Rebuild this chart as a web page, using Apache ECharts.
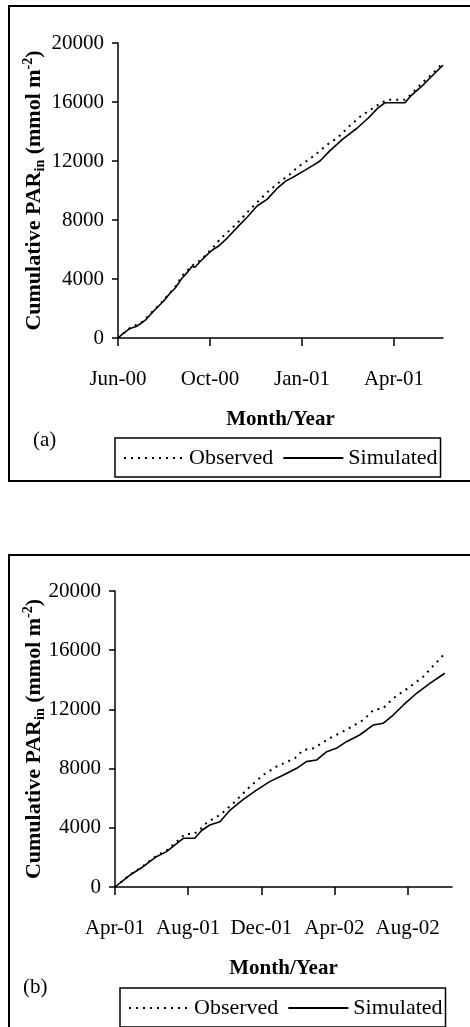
<!DOCTYPE html>
<html><head><meta charset="utf-8">
<script src="https://cdn.jsdelivr.net/npm/echarts@6/dist/echarts.min.js"></script>
<style>html,body{margin:0;padding:0;background:#fff;overflow:hidden}#c{width:470px;height:1027px}</style>
</head><body><div id="c"></div>
<script>
// ---- data ----
const yTickStep = 4000;
const xTickDaysA = [0, 92, 184, 276];
const xLabelsA = ['Jun-00', 'Oct-00', 'Jan-01', 'Apr-01'];
const xTickDaysB = [0, 122, 244, 366, 488];
const xLabelsB = ['Apr-01', 'Aug-01', 'Dec-01', 'Apr-02', 'Aug-02'];
const seriesNames = ['Observed', 'Simulated'];

const daysObsA = [0,12,24,35,45,57,64,74,82,94,102,110,120,129,142,152,162,172,179,195,209,220,232,242,252,262,269,287,292,305,315,325];
const obsA = [0,680,1080,1820,2520,3450,4200,4900,5250,6050,6700,7200,7850,8500,9400,10050,10600,11100,11550,12300,13100,13600,14400,15000,15450,15900,16150,16150,16450,17350,17950,18650];
const daysSimA = [0,5,12,19,24,28,35,45,52,57,64,70,74,77,82,90,95,100,109,120,130,139,149,160,168,175,185,195,202,212,225,239,250,260,267,287,292,305,315,325];
const simA = [0,300,650,800,1050,1250,1780,2460,3030,3370,4050,4500,4850,4800,5170,5700,6000,6200,6760,7550,8250,8950,9400,10200,10650,10900,11300,11700,12000,12700,13500,14220,14900,15600,15950,15950,16360,17150,17830,18500];

const daysObsB = [0,25,47,69,86,100,117,131,140,153,175,197,225,247,269,300,314,331,358,380,414,431,447,464,492,514,547,550];
const obsB = [0,830,1420,2100,2480,2950,3580,3580,3800,4350,4860,5650,6780,7570,8130,8700,9260,9370,10050,10500,11280,11960,12070,12750,13530,14210,15650,15750];
const daysSimB = [0,3,25,47,69,86,100,114,133,144,158,175,192,214,236,258,281,303,319,336,353,369,386,408,431,447,464,481,503,525,550];
const simB = [0,135,810,1370,2050,2390,2840,3290,3290,3800,4190,4410,5200,5920,6550,7120,7570,8020,8470,8580,9140,9370,9820,10270,10950,11060,11620,12300,13090,13760,14440];

// ---- chart ----
const FF = '"Liberation Serif", "Times New Roman", serif';
const zip = (xs, ys) => xs.map((x, i) => [x, ys[i]]);
const black = '#000';

function xAxis(grid, max, ticks, labels) {
  return {
    gridIndex: grid, type: 'value', min: 0, max: max,
    axisLine: { show: true, lineStyle: { color: black, width: 1.5 } },
    axisTick: { show: true, customValues: ticks, length: 8, lineStyle: { color: black, width: 1.5 } },
    axisLabel: { customValues: ticks, formatter: v => labels[ticks.indexOf(v)] || '', margin: 31,
      fontSize: 21, fontFamily: FF, color: black },
    splitLine: { show: false },
    name: 'Month/Year', nameLocation: 'middle', nameGap: 71, nameMoveOverlap: false,
    nameTextStyle: { fontSize: 21, fontWeight: 'bold', fontFamily: FF, color: black }
  };
}
function yAxis(grid, gap) {
  return {
    gridIndex: grid, type: 'value', min: 0, max: 20000, interval: yTickStep,
    axisLine: { show: true, lineStyle: { color: black, width: 1.5 } },
    axisTick: { show: true, length: 6, lineStyle: { color: black, width: 1.5 } },
    axisLabel: { margin: 14, fontSize: 21, fontFamily: FF, color: black, formatter: v => String(v) },
    splitLine: { show: false },
    name: '{a|Cumulative PAR}{s|in}{a| (mmol m}{p|-2}{a|)}',
    nameLocation: 'middle', nameRotate: 90, nameGap: gap, nameMoveOverlap: false,
    nameTextStyle: {
      rich: {
        a: { fontSize: 22, fontWeight: 'bold', fontFamily: FF, color: black, lineHeight: 26, verticalAlign: 'middle' },
        s: { fontSize: 14, fontWeight: 'bold', fontFamily: FF, color: black, verticalAlign: 'bottom', lineHeight: 16 },
        p: { fontSize: 14, fontWeight: 'bold', fontFamily: FF, color: black, verticalAlign: 'top', lineHeight: 14 }
      }
    }
  };
}
function legend(left, top) {
  return {
    left: left, top: top, orient: 'horizontal', data: seriesNames, selectedMode: false,
    itemWidth: 60, itemHeight: 14, itemGap: 9, padding: [9, 3, 8, 8],
    itemStyle: { opacity: 0 },
    borderColor: black, borderWidth: 1.5, borderRadius: 0,
    textStyle: { fontSize: 22, fontFamily: FF, color: black }
  };
}
function line(name, data, xi, dotted) {
  return {
    name: name, type: 'line', xAxisIndex: xi, yAxisIndex: xi, data: data,
    symbol: 'none', showSymbol: false, smooth: false, animation: false,
    lineStyle: { color: black, width: dotted ? 2 : 1.6, type: dotted ? [2, 5] : 'solid' },
    itemStyle: { color: black }, z: dotted ? 3 : 2
  };
}

const chart = echarts.init(document.getElementById('c'), null, { renderer: 'canvas' });
chart.setOption({
  animation: false,
  backgroundColor: '#fff',
  grid: [
    { left: 118, top: 43, width: 325, height: 295 },
    { left: 115, top: 591, width: 337, height: 296 }
  ],
  xAxis: [xAxis(0, 325, xTickDaysA, xLabelsA), xAxis(1, 562, xTickDaysB, xLabelsB)],
  yAxis: [yAxis(0, 71), yAxis(1, 68)],
  legend: [legend(115, 438), legend(120, 988)],
  series: [
    line('Observed', zip(daysObsA, obsA), 0, true),
    line('Simulated', zip(daysSimA, simA), 0, false),
    line('Observed', zip(daysObsB, obsB), 1, true),
    line('Simulated', zip(daysSimB, simB), 1, false)
  ],
  graphic: [
    { type: 'rect', shape: { x: 9, y: 6, width: 500, height: 475 }, style: { fill: 'none', stroke: black, lineWidth: 2 }, silent: true },
    { type: 'rect', shape: { x: 9, y: 555, width: 500, height: 500 }, style: { fill: 'none', stroke: black, lineWidth: 2 }, silent: true },
    { type: 'text', left: 33, top: 430, style: { text: '(a)', fontSize: 21, fontFamily: FF, fill: black } },
    { type: 'text', left: 23, top: 977, style: { text: '(b)', fontSize: 21, fontFamily: FF, fill: black } }
  ]
});
</script></body></html>
